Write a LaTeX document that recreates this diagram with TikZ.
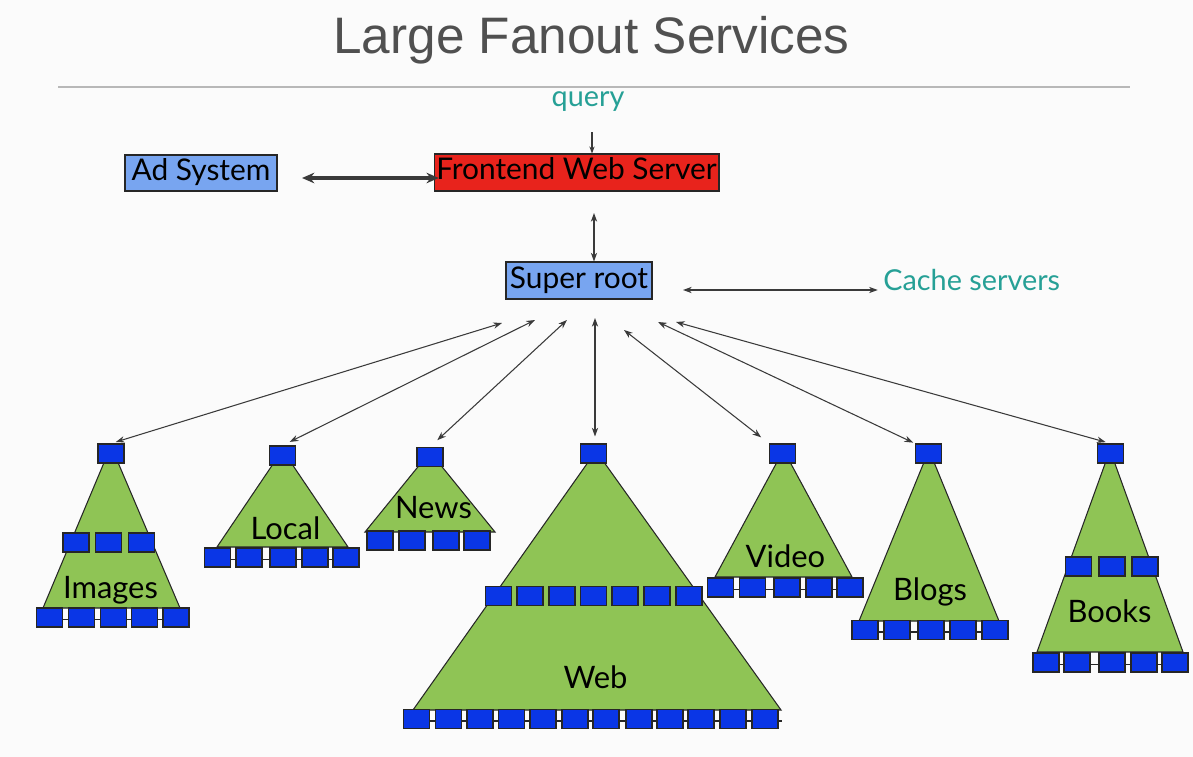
\documentclass[tikz,border=0pt]{standalone}
\usepackage{fontspec}
\setmainfont{Lato}
\newfontfamily\titlefont{Liberation Sans}
\usetikzlibrary{arrows.meta}
\definecolor{bgc}{HTML}{FBFBFB}
\definecolor{titlec}{HTML}{505050}
\definecolor{rulec}{HTML}{B8B8B8}
\definecolor{tealc}{HTML}{26A096}
\definecolor{boxblue}{HTML}{0A36E6}
\definecolor{lightblue}{HTML}{78A5F0}
\definecolor{redc}{HTML}{E8231C}
\definecolor{greenc}{HTML}{8FC455}
\definecolor{arrc}{HTML}{3A3A3A}
\pgfdeclarelayer{bg}
\pgfdeclarelayer{tri}
\pgfdeclarelayer{lines}
\pgfsetlayers{bg,tri,lines,main}
\tikzset{
  bx/.style={draw=black!85, fill=boxblue, line width=0.6pt, minimum width=0.52cm, minimum height=0.38cm, inner sep=0pt},
  bigbox/.style={draw=black!85, line width=0.6pt, inner sep=0pt, font=\fontsize{17pt}{20pt}\selectfont, text height=0.38cm, text depth=0.08cm},
  lab/.style={font=\fontsize{17.6pt}{21pt}\selectfont, inner sep=0pt, anchor=base},
  tealtxt/.style={font=\fontsize{16.4pt}{19pt}\selectfont, text=tealc, inner sep=0pt, anchor=base},
  thinarr/.style={draw=arrc, line width=0.6pt, {Stealth[length=5pt,width=3.6pt]}-{Stealth[length=5pt,width=3.6pt]}},
  onearr/.style={draw=arrc, line width=0.6pt, -{Stealth[length=4pt,width=3pt]}},
  thickarr/.style={draw=arrc, line width=1.8pt, {Stealth[length=7pt,width=6pt]}-{Stealth[length=7pt,width=6pt]}},
  tri/.style={fill=greenc, draw=black!85, line width=0.6pt},
  rowline/.style={draw=black!85, line width=0.6pt}
}
\begin{document}
\begin{tikzpicture}[x=0.02cm,y=-0.02cm]
\begin{pgfonlayer}{bg}
\fill[bgc] (0,0) rectangle (1193,757);
\end{pgfonlayer}
\useasboundingbox (0,0) rectangle (1193,757);

% title and rule
\node[anchor=base, inner sep=0pt, text=titlec, font=\titlefont\fontsize{29.2pt}{35pt}\selectfont] (title) at (591.5,54) {Large Fanout Services};
\draw[rulec, line width=1.7pt] (58,87) -- (1130,87);

% top boxes
\node[tealtxt] (query) at (588,107) {query};
\node[bigbox, fill=redc, minimum width=5.7cm, minimum height=0.74cm] (fe) at (576.5,172.5) {Frontend Web Server};
\node[bigbox, fill=lightblue, minimum width=3.04cm, minimum height=0.72cm] (ad) at (201,173) {Ad System};
\node[bigbox, fill=lightblue, minimum width=2.92cm, minimum height=0.74cm] (sr) at (579,280.5) {Super root};
\node[tealtxt, anchor=base west] (cache) at (883,290) {Cache servers};

\coordinate (qa) at (592,132);
\draw[onearr] (qa) -- (qa |- fe.north);
\coordinate (a1) at (302,178);
\draw[thickarr, shorten >=-3pt] (a1) -- (a1 -| fe.west);
\coordinate (fs) at (594,213);
\draw[thinarr] (fs) -- (fs |- sr.north);
\coordinate (c1) at (683,290);
\draw[thinarr, shorten >=3pt] (c1) -- (cache.base west);

% ---------- trees ----------
\begin{pgfonlayer}{tri}
\filldraw[tri] (111,446) -- (180,608) -- (43,608) -- cycle;
\filldraw[tri] (282.5,450) -- (348,547) -- (217,547) -- cycle;
\filldraw[tri] (430,452) -- (495,532) -- (365,532) -- cycle;
\filldraw[tri] (596,451) -- (781,710) -- (413,710) -- cycle;
\filldraw[tri] (783.5,450) -- (852,577) -- (715,577) -- cycle;
\filldraw[tri] (929,450) -- (999,621) -- (859,621) -- cycle;
\filldraw[tri] (1110,450) -- (1183,652) -- (1037,652) -- cycle;
\end{pgfonlayer}

% Images
\node[bx] (imgT) at (111,453.5) {};
\foreach \x [count=\i] in {76,108.5,141.5} \node[bx] (imgM\i) at (\x,542.5) {};
\foreach \x [count=\i] in {49.5,81.5,113.5,144.5,176} \node[bx] (imgB\i) at (\x,617.5) {};
\node[lab] (imgL) at (110.5,598) {Images};
% Local
\node[bx] (locT) at (282.5,455.5) {};
\foreach \x [count=\i] in {217.5,249,283,315,346} \node[bx] (locB\i) at (\x,557.5) {};
\node[lab] (locL) at (285.5,539) {Local};
% News
\node[bx] (newT) at (430,457) {};
\foreach \x [count=\i] in {380,412,446,477} \node[bx] (newB\i) at (\x,540.5) {};
\node[lab] (newL) at (433.5,518) {News};
% Web
\node[bx] (webT) at (593.5,453.5) {};
\foreach \x [count=\i] in {498.5,530,562,593.5,625,657,689} \node[bx] (webM\i) at (\x,596) {};
\foreach \x [count=\i] in {416.5,448.5,480,511.5,543,575,606,639,670,701,733,765} \node[bx] (webB\i) at (\x,719) {};
\node[lab] (webL) at (595.5,688) {Web};
% Video
\node[bx] (vidT) at (782.5,453.5) {};
\foreach \x [count=\i] in {720.5,752.5,787,819,850} \node[bx] (vidB\i) at (\x,587.5) {};
\node[lab] (vidL) at (785.5,567) {Video};
% Blogs
\node[bx] (blgT) at (928.5,453.5) {};
\foreach \x [count=\i] in {865,897,931,963,995} \node[bx] (blgB\i) at (\x,630) {};
\node[lab] (blgL) at (930,600) {Blogs};
% Books
\node[bx] (bokT) at (1110.5,453.5) {};
\foreach \x [count=\i] in {1078.5,1112,1145} \node[bx] (bokM\i) at (\x,566.5) {};
\foreach \x [count=\i] in {1046,1077,1112,1144,1175} \node[bx] (bokB\i) at (\x,662.5) {};
\node[lab] (bokL) at (1109.5,622) {Books};

% row lines
\begin{pgfonlayer}{lines}
\draw[rowline] ([yshift=-0.04cm]imgB1.center) -- ([yshift=-0.04cm]imgB5.center);
\draw[rowline] ([yshift=-0.04cm]locB1.center) -- ([yshift=-0.04cm]locB5.center);
\draw[rowline] ([yshift=-0.04cm]vidB1.center) -- ([yshift=-0.04cm]vidB5.center);
\draw[rowline] ([yshift=-0.04cm]blgB1.center) -- ([yshift=-0.04cm]blgB5.center);
\draw[rowline] ([yshift=-0.04cm]bokB1.center) -- ([xshift=-0.28cm,yshift=-0.04cm]bokB1.center);
\draw[rowline] ([yshift=-0.04cm]bokB1.center) -- ([yshift=-0.04cm]bokB5.center);
\draw[rowline] ([yshift=-0.04cm]webB1.center) -- ([xshift=0.34cm,yshift=-0.04cm]webB12.center);
\end{pgfonlayer}

% fan-out arrows
\coordinate (s1) at (502,323);
\coordinate (s2) at (535,320);
\coordinate (s3) at (567,320);
\coordinate (s4) at (595,318);
\coordinate (s5) at (624,330);
\coordinate (s6) at (658,322);
\coordinate (s7) at (676,322);
\draw[thinarr, shorten >=0.1cm] (s1) -- (imgT.north);
\draw[thinarr, shorten >=0.16cm] (s2) -- (locT.north);
\draw[thinarr, shorten >=0.2cm] (s3) -- (newT.north);
\draw[thinarr, shorten >=0.14cm] (s4) -- (s4 |- webT.north);
\draw[thinarr, shorten >=0.2cm] (s5) -- (vidT.north west);
\draw[thinarr, shorten >=0.04cm] (s6) -- (blgT.north west);
\draw[thinarr, shorten >=0.1cm] (s7) -- (bokT.north);
\end{tikzpicture}
\end{document}
